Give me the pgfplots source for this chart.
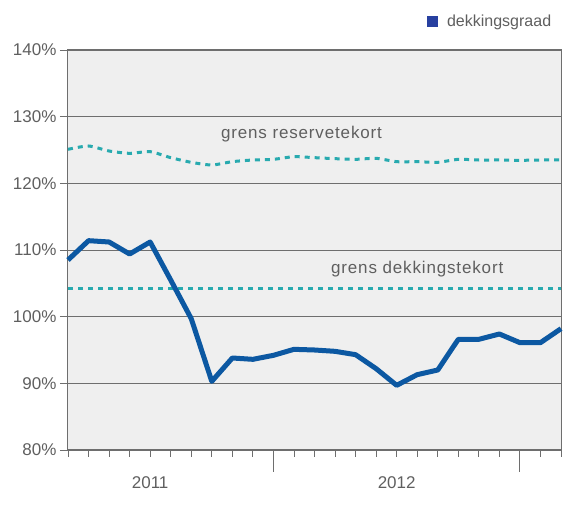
\documentclass[border=0pt]{standalone}
\usepackage{pgfplots}
\pgfplotsset{compat=1.18}
\usepackage{pgfplotstable}
\usepackage{fontspec}
\setmainfont{Liberation Sans}
\newfontfamily\spaced[LetterSpace=5]{Liberation Sans}

\definecolor{lijnblauw}{RGB}{12,88,162}
\definecolor{legblauw}{RGB}{40,64,160}
\definecolor{turkoois}{RGB}{40,170,175}
\definecolor{vlak}{RGB}{239,239,239}
\definecolor{raster}{RGB}{110,110,110}
\definecolor{tekst}{RGB}{95,95,95}

% maand-index, dekkingsgraad, grens reservetekort
\pgfplotstableread{
i  dg     res
0  108.5  125.1
1  111.4  125.6
2  111.2  124.85
3  109.4  124.5
4  111.2  124.75
5  105.5  123.85
6  99.7   123.15
7  90.3   122.75
8  93.8   123.25
9  93.6   123.5
10 94.2   123.6
11 95.1   124.0
12 95.0   123.85
13 94.8   123.7
14 94.3   123.6
15 92.2   123.75
16 89.7   123.25
17 91.3   123.25
18 92.0   123.15
19 96.6   123.6
20 96.6   123.5
21 97.4   123.5
22 96.1   123.45
23 96.1   123.5
24 98.2   123.5
}\data

\pgfplotstableread{
i  v
0  104.2
24 104.2
}\tekort

\begin{document}
\begin{tikzpicture}
\useasboundingbox (0,0) rectangle (565pt,516pt);
\begin{axis}[
  at={(68pt,66pt)}, anchor=south west,
  scale only axis, width=493pt, height=400pt,
  xmin=0, xmax=24, ymin=80, ymax=140,
  axis background/.style={fill=vlak},
  axis line style={raster, line width=1pt},
  tick pos=left,
  tick align=outside, major tick length=8pt, minor tick length=7pt,
  tick style={raster, line width=0.9pt},
  ytick={80,90,...,140},
  yticklabel={\pgfmathprintnumber{\tick}\%},
  ymajorgrids, grid style={raster, line width=0.9pt},
  xtick={4,16}, xticklabels={2011,2012},
  major x tick style={draw=none},
  minor x tick style={draw=raster, line width=0.9pt},
  minor xtick={0,1,...,24},
  extra x ticks={10,22}, extra x tick labels={},
  extra x tick style={major tick length=22pt,
    major x tick style={draw=raster, line width=0.9pt}},
  /pgf/number format/assume math mode=true,
  ticklabel style={font=\fontsize{17}{20}\selectfont, text=tekst},
  xticklabel style={yshift=-15pt},
  legend style={at={(rel axis cs:0.728,1.071)}, anchor=west, draw=none, fill=none,
    inner sep=0pt, font=\fontsize{16}{19}\selectfont, text=tekst,
    /tikz/every odd column/.append style={column sep=7pt}},
  legend image code/.code={\fill[legblauw, draw=none] (0pt,-5pt) rectangle (11pt,6pt);},
  clip=false,
]
\addplot[turkoois, line width=3pt, dash pattern=on 5pt off 5pt, smooth, tension=0.4, forget plot] table[x=i, y=res] {\data};
\addplot[turkoois, line width=3pt, dash pattern=on 5pt off 5pt, forget plot] table[x=i, y=v] {\tekort};
\addplot[lijnblauw, line width=5pt, line join=round] table[x=i, y=dg] {\data};
\addlegendentry{dekkingsgraad}
\node[anchor=base west, inner sep=0pt, text=tekst, font=\fontsize{17}{20}\spaced] at (axis cs:7.44,126.75) {grens reservetekort};
\node[anchor=base west, inner sep=0pt, text=tekst, font=\fontsize{17}{20}\spaced] at (axis cs:12.8,106.5) {grens dekkingstekort};
\end{axis}
\end{tikzpicture}
\end{document}
